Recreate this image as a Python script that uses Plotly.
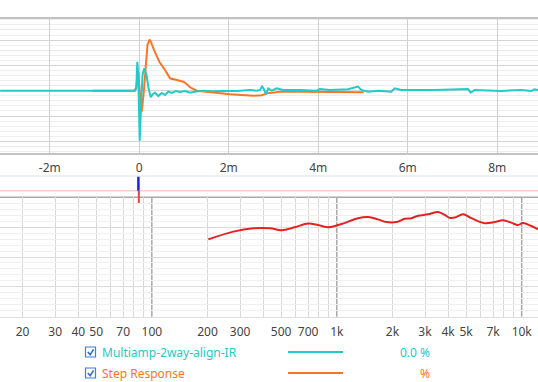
import plotly.graph_objects as go
import math

W, H = 538, 382

# ---------------- data ----------------
# Impulse response (time in ms, amplitude in %)
ir_t = [-3.11, -0.096, -0.067, -0.045, -0.022, 0.009, 0.045, 0.072, 0.112, 0.161, 0.206, 0.255,
        0.306, 0.351, 0.425, 0.501, 0.574, 0.648, 0.731, 0.82, 0.909, 1.021, 1.133, 1.267, 1.43,
        1.625, 1.803, 2.177, 2.474, 2.623, 2.697, 2.742, 2.787, 2.831, 2.883, 2.959, 3.07, 3.218,
        3.591, 3.964, 4.038, 4.262, 4.664, 4.887, 4.961, 5.111, 5.334, 5.631, 5.707, 5.855, 6.601,
        6.943, 7.345, 7.406, 7.495, 8.089, 8.536, 8.76, 8.836, 8.91]
ir_v = [0, 0, 2.1, 22.9, 12.4, -39.5, -7.3, 12.4, 17.7, 12.4, 2.1, -5.2,
        -2.6, -1.6, -4.2, -1.8, -3.4, -0.8, -1.8, -0.2, -1.0, -0.2, -1.6, -0.6, 0,
        -0.5, -0.2, -0.2, 0.6, 0, 0.6, 3.3, 1.1, -3.0, 1.9, 0, 1.9, 0.6,
        0.6, 0, 1.3, 0.6, 1.1, 3.2, 0.6, -0.8, 0, -0.8, 1.9, 0.6, 0.6,
        0.9, 1.3, -1.6, 0.6, -0.2, 0.6, -0.2, 1.1, 0.6]

# Step response (time in ms, amplitude in %)
st_t = [-1.04, -0.118, -0.074, -0.022, 0.016, 0.054, 0.094, 0.139, 0.183, 0.228, 0.261, 0.328,
        0.447, 0.574, 0.686, 0.836, 0.983, 1.044, 1.133, 1.283, 1.506, 2.027, 2.547, 2.742,
        2.847, 2.965, 3.144, 3.613, 5.015]
st_v = [0, 0, 1.9, 15.0, -3.4, -16.6, -3.4, 20.3, 36.1, 40.4, 38.4, 32.2,
        22.9, 16.4, 9.8, 8.5, 7.1, 5.7, 2.7, 0, -1.0, -2.8, -4.0, -3.6,
        -2.1, -1.4, -0.8, -0.8, -1.3]

# Frequency response (Hz, dB)
fr_f = [202, 276, 354, 436, 502, 593, 700, 793, 897, 1059, 1304, 1477, 1672, 1854, 2100, 2332,
        2530, 2750, 3117, 3530, 3836, 4080, 4345, 4817, 5343, 6310, 7146, 7925, 8789, 9550,
        10160, 11270, 12250]
fr_db = [75.9, 78.5, 79.6, 79.6, 79.0, 79.95, 81.2, 80.7, 79.95, 81.05, 83.0, 83.4, 82.6, 81.7,
         81.7, 82.8, 83.0, 83.8, 84.3, 85.1, 84.1, 83.1, 83.2, 84.3, 83.0, 81.3, 81.7, 82.3, 81.5,
         80.7, 81.4, 80.4, 79.3]

# Cursor marker in slice strip
cursor_t = -0.02

time_ticks = [-2, 0, 2, 4, 6, 8]
time_labels = ["-2m", "0", "2m", "4m", "6m", "8m"]
freq_ticks = [20, 30, 40, 50, 70, 100, 200, 300, 500, 700, 1000, 2000, 3000, 4000, 5000, 7000, 10000]
freq_labels = ["20", "30", "40", "50", "70", "100", "200", "300", "500", "700", "1k",
               "2k", "3k", "4k", "5k", "7k", "10k"]
freq_grid = [20, 30, 40, 50, 60, 70, 80, 90, 200, 300, 400, 500, 600, 700, 800, 900,
             2000, 3000, 4000, 5000, 6000, 7000, 8000, 9000]
freq_decades = [100, 1000, 10000]

legend_names = ["Multiamp-2way-align-IR", "Step Response"]
legend_values = ["0.0 %", "%"]

CYAN = "#22CACA"
ORANGE = "#FF7424"
RED = "#E42222"
FONT = "Noto Sans"


def px(x):
    return x / W


def py(y):
    return 1 - y / H


fig = go.Figure()

fig.add_trace(go.Scatter(x=st_t, y=st_v, mode="lines", line=dict(color=ORANGE, width=2),
                         xaxis="x", yaxis="y", showlegend=False))
fig.add_trace(go.Scatter(x=ir_t, y=ir_v, mode="lines", line=dict(color=CYAN, width=2),
                         xaxis="x", yaxis="y", showlegend=False))

# slice strip cursor
fig.add_trace(go.Scatter(x=[cursor_t, cursor_t], y=[0.48, 0.975], mode="lines",
                         line=dict(color="#2020E0", width=2.5), xaxis="x2", yaxis="y2", showlegend=False))
fig.add_trace(go.Scatter(x=[cursor_t + 0.01, cursor_t + 0.01], y=[0.0, 0.48], mode="lines",
                         line=dict(color="#F04040", width=2), xaxis="x2", yaxis="y2", showlegend=False))

fig.add_trace(go.Scatter(x=fr_f, y=fr_db, mode="lines", line=dict(color=RED, width=2, shape="spline"),
                         xaxis="x3", yaxis="y3", showlegend=False))

tfont = dict(family=FONT, size=12, color="#444444")

layout = dict(
    width=W, height=H,
    margin=dict(l=0, r=0, t=0, b=0),
    paper_bgcolor="white",
    plot_bgcolor="rgba(0,0,0,0)",
    font=tfont,
    hovermode=False,
    xaxis=dict(domain=[0, 1], range=[-3.113, 8.91], tickmode="array", tickvals=time_ticks,
               ticktext=time_labels, showgrid=True, gridcolor="#cfcfcf", gridwidth=1,
               zeroline=False, showline=True, mirror=True, linecolor="#c2c2c2", linewidth=2,
               ticks="outside", ticklen=3, tickcolor="rgba(0,0,0,0)", tickfont=tfont,
               anchor="y", fixedrange=True),
    yaxis=dict(domain=[py(152.7), py(18.7)], range=[-49.0, 56.9], tickmode="linear", tick0=0,
               dtick=20, showgrid=True, gridcolor="#d4d4d4", showticklabels=False, zeroline=False,
               minor=dict(dtick=4, tick0=0, showgrid=True, gridcolor="#eeeeee"),
               anchor="x", fixedrange=True),
    xaxis2=dict(domain=[0, 1], range=[-3.113, 8.91], visible=False, anchor="y2", fixedrange=True),
    yaxis2=dict(domain=[py(204.3), py(176)], range=[0, 1], visible=False, anchor="x2", fixedrange=True),
    xaxis3=dict(domain=[0, 1], type="log", range=[math.log10(15.1), math.log10(12250)],
                tickmode="array", tickvals=freq_ticks, ticktext=freq_labels, showgrid=False,
                zeroline=False, showline=True, linecolor="#dddddd", linewidth=1,
                ticks="outside", ticklen=4, tickcolor="rgba(0,0,0,0)", tickfont=tfont,
                minor=dict(tickmode="array", tickvals=freq_grid, showgrid=True,
                           gridcolor="#d9d9d9", ticks=""),
                anchor="y3", fixedrange=True),
    yaxis3=dict(domain=[py(316.7), py(197.3)], range=[50, 90], tickmode="linear", tick0=50,
                dtick=10, showgrid=True, gridcolor="#dcdcdc", showticklabels=False, zeroline=False,
                minor=dict(dtick=2, tick0=50, showgrid=True, gridcolor="#f0f0f0"),
                anchor="x3", fixedrange=True),
)
fig.update_layout(**layout)

shapes = []
# decade grid lines (darker)
for f in freq_decades:
    shapes.append(dict(type="line", xref="x3", yref="y3 domain", x0=f, x1=f, y0=0, y1=1,
                       line=dict(color="#a9a9a9", width=1.5), layer="below"))
# top border of frequency panel
shapes.append(dict(type="line", xref="paper", yref="paper", x0=0, x1=1, y0=py(197.3), y1=py(197.3),
                   line=dict(color="#a9a9a9", width=1.5), layer="below"))
# separator above slice strip
shapes.append(dict(type="line", xref="paper", yref="paper", x0=0, x1=1, y0=py(176), y1=py(176),
                   line=dict(color="#dedede", width=1), layer="below"))
# pink slice baseline
shapes.append(dict(type="line", xref="paper", yref="paper", x0=0, x1=1, y0=py(190.7), y1=py(190.7),
                   line=dict(color="#f6cfcf", width=1.5), layer="below"))

annotations = []
rows_y = [352, 373]
colors = [CYAN, ORANGE]
for i, (name, val) in enumerate(zip(legend_names, legend_values)):
    yc = rows_y[i]
    # checkbox
    shapes.append(dict(type="rect", xref="paper", yref="paper", x0=px(85.5), x1=px(95.5),
                       y0=py(yc + 5), y1=py(yc - 5), line=dict(color="#3a7fd8", width=1.2),
                       fillcolor="white"))
    shapes.append(dict(type="path", xref="paper", yref="paper",
                       path=f"M {px(87.8)},{py(yc)} L {px(90.2)},{py(yc + 2.6)} L {px(93.6)},{py(yc - 2.6)}",
                       line=dict(color="#2a6fd0", width=1.6)))
    # legend sample line
    shapes.append(dict(type="line", xref="paper", yref="paper", x0=px(288), x1=px(343),
                       y0=py(yc), y1=py(yc), line=dict(color=colors[i], width=2)))
    annotations.append(dict(xref="paper", yref="paper", x=px(100), y=py(yc), xanchor="left",
                            yanchor="middle", text=name, showarrow=False,
                            font=dict(family=FONT, size=12, color=colors[i])))
    annotations.append(dict(xref="paper", yref="paper", x=px(432), y=py(yc), xanchor="right",
                            yanchor="middle", text=val, showarrow=False,
                            font=dict(family=FONT, size=12, color=colors[i])))

fig.update_layout(shapes=shapes, annotations=annotations)

fig.write_html("out.html", config={"displayModeBar": False, "staticPlot": True},
               post_script="document.body.style.margin='0';document.body.style.overflow='hidden';")
